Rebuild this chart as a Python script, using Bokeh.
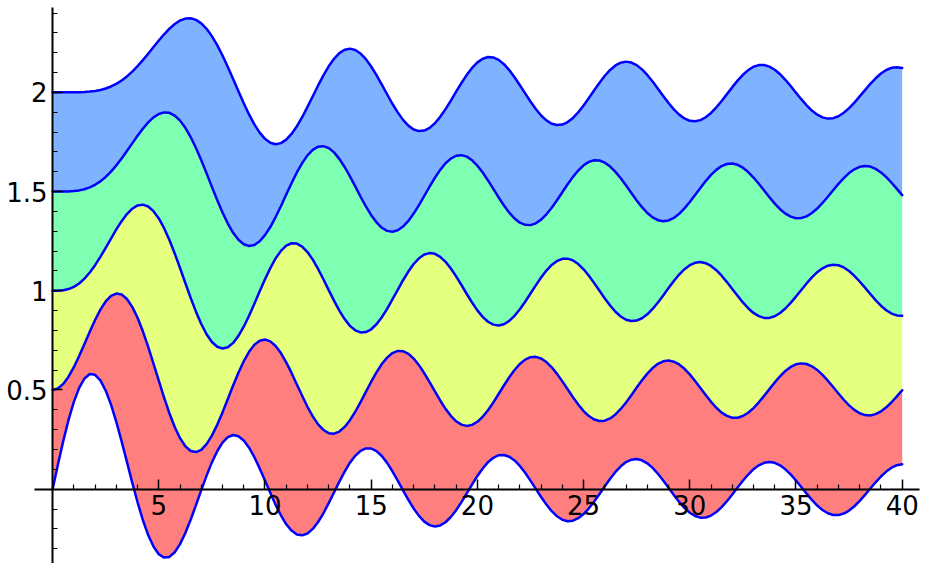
from bokeh.plotting import figure
from bokeh.models import Range1d, FixedTicker, LinearAxis
from bokeh.embed import file_html
from bokeh.resources import INLINE

x = [0.0, 0.25, 0.5, 0.75, 1.0, 1.25, 1.5, 1.75, 2.0, 2.25, 2.5, 2.75, 3.0, 3.25, 3.5, 3.75,
     4.0, 4.25, 4.5, 4.75, 5.0, 5.25, 5.5, 5.75, 6.0, 6.25, 6.5, 6.75, 7.0, 7.25, 7.5, 7.75,
     8.0, 8.25, 8.5, 8.75, 9.0, 9.25, 9.5, 9.75, 10.0, 10.25, 10.5, 10.75, 11.0, 11.25, 11.5, 11.75,
     12.0, 12.25, 12.5, 12.75, 13.0, 13.25, 13.5, 13.75, 14.0, 14.25, 14.5, 14.75, 15.0, 15.25, 15.5, 15.75,
     16.0, 16.25, 16.5, 16.75, 17.0, 17.25, 17.5, 17.75, 18.0, 18.25, 18.5, 18.75, 19.0, 19.25, 19.5, 19.75,
     20.0, 20.25, 20.5, 20.75, 21.0, 21.25, 21.5, 21.75, 22.0, 22.25, 22.5, 22.75, 23.0, 23.25, 23.5, 23.75,
     24.0, 24.25, 24.5, 24.75, 25.0, 25.25, 25.5, 25.75, 26.0, 26.25, 26.5, 26.75, 27.0, 27.25, 27.5, 27.75,
     28.0, 28.25, 28.5, 28.75, 29.0, 29.25, 29.5, 29.75, 30.0, 30.25, 30.5, 30.75, 31.0, 31.25, 31.5, 31.75,
     32.0, 32.25, 32.5, 32.75, 33.0, 33.25, 33.5, 33.75, 34.0, 34.25, 34.5, 34.75, 35.0, 35.25, 35.5, 35.75,
     36.0, 36.25, 36.5, 36.75, 37.0, 37.25, 37.5, 37.75, 38.0, 38.25, 38.5, 38.75, 39.0, 39.25, 39.5, 39.75,
     40.0]

curve1 = [0.0, 0.1240, 0.2423, 0.3492, 0.4401, 0.5106, 0.5579, 0.5802,
          0.5767, 0.5484, 0.4971, 0.4260, 0.3391, 0.2411, 0.1374, 0.0334,
          -0.0660, -0.1554, -0.2311, -0.2890, -0.3276, -0.3448, -0.3414, -0.3177,
          -0.2767, -0.2206, -0.1538, -0.0803, -0.0047, 0.0684, 0.1352, 0.1914,
          0.2346, 0.2620, 0.2731, 0.2670, 0.2453, 0.2090, 0.1613, 0.1048,
          0.0435, -0.0182, -0.0788, -0.1316, -0.1768, -0.2086, -0.2283, -0.2326,
          -0.2234, -0.2002, -0.1654, -0.1214, -0.0703, -0.0166, 0.0380, 0.0883,
          0.1334, 0.1683, 0.1933, 0.2052, 0.2051, 0.1917, 0.1671, 0.1326,
          0.0904, 0.0436, -0.0058, -0.0533, -0.0977, -0.1345, -0.1634, -0.1810,
          -0.1880, -0.1826, -0.1666, -0.1402, -0.1057, -0.0652, -0.0209, 0.0236,
          0.0668, 0.1045, 0.1362, 0.1583, 0.1711, 0.1725, 0.1638, 0.1447,
          0.1171, 0.0826, 0.0432, 0.0019, -0.0395, -0.0775, -0.1109, -0.1364,
          -0.1540, -0.1612, -0.1590, -0.1464, -0.1253, -0.0965, -0.0620, -0.0242,
          0.0151, 0.0526, 0.0870, 0.1152, 0.1366, 0.1487, 0.1521, 0.1455,
          0.1305, 0.1072, 0.0777, 0.0436, 0.0069, -0.0296, -0.0643, -0.0942,
          -0.1187, -0.1350, -0.1435, -0.1424, -0.1330, -0.1151, -0.0904, -0.0603,
          -0.0266, 0.0083, 0.0427, 0.0738, 0.1006, 0.1204, 0.1332, 0.1371,
          0.1330, 0.1202, 0.1004, 0.0744, 0.0440, 0.0112, -0.0223, -0.0539,
          -0.0823, -0.1050, -0.1215, -0.1298, -0.1306, -0.1228, -0.1078, -0.0860,
          -0.0592, -0.0288, 0.0032, 0.0347, 0.0641, 0.0889, 0.1085, 0.1208,
          0.1260]

curve2 = [0.0, 0.0078, 0.0306, 0.0671, 0.1149, 0.1711, 0.2321, 0.2940,
          0.3528, 0.4047, 0.4461, 0.4739, 0.4861, 0.4809, 0.4586, 0.4189,
          0.3641, 0.2958, 0.2178, 0.1333, 0.0466, -0.0383, -0.1173, -0.1864,
          -0.2429, -0.2835, -0.3074, -0.3130, -0.3014, -0.2729, -0.2302, -0.1757,
          -0.1130, -0.0456, 0.0224, 0.0870, 0.1448, 0.1925, 0.2279, 0.2486,
          0.2546, 0.2453, 0.2218, 0.1859, 0.1391, 0.0861, 0.0280, -0.0293,
          -0.0849, -0.1330, -0.1734, -0.2014, -0.2177, -0.2200, -0.2095, -0.1862,
          -0.1520, -0.1096, -0.0609, -0.0099, 0.0416, 0.0888, 0.1309, 0.1633,
          0.1862, 0.1967, 0.1957, 0.1824, 0.1584, 0.1250, 0.0844, 0.0396,
          -0.0075, -0.0529, -0.0952, -0.1302, -0.1577, -0.1744, -0.1810, -0.1758,
          -0.1603, -0.1350, -0.1018, -0.0629, -0.0203, 0.0226, 0.0641, 0.1007,
          0.1314, 0.1529, 0.1654, 0.1671, 0.1590, 0.1409, 0.1145, 0.0813,
          0.0434, 0.0035, -0.0367, -0.0736, -0.1063, -0.1315, -0.1490, -0.1565,
          -0.1548, -0.1432, -0.1233, -0.0958, -0.0627, -0.0261, 0.0121, 0.0487,
          0.0825, 0.1104, 0.1318, 0.1443, 0.1484, 0.1428, 0.1288, 0.1068,
          0.0785, 0.0456, 0.0100, -0.0256, -0.0598, -0.0895, -0.1139, -0.1307,
          -0.1398, -0.1396, -0.1313, -0.1146, -0.0912, -0.0622, -0.0296, 0.0044,
          0.0382, 0.0690, 0.0958, 0.1160, 0.1294, 0.1341, 0.1310, 0.1195,
          0.1010, 0.0761, 0.0468, 0.0148, -0.0180, -0.0492, -0.0775, -0.1004,
          -0.1174, -0.1266, -0.1284, -0.1218, -0.1081, -0.0875, -0.0618, -0.0324,
          -0.0011]

curve3 = [0.0, 0.0003, 0.0026, 0.0085, 0.0196, 0.0369, 0.0610, 0.0919,
          0.1289, 0.1711, 0.2166, 0.2634, 0.3091, 0.3510, 0.3867, 0.4137,
          0.4302, 0.4340, 0.4247, 0.4013, 0.3648, 0.3156, 0.2561, 0.1881,
          0.1148, 0.0391, -0.0354, -0.1053, -0.1676, -0.2191, -0.2580, -0.2821,
          -0.2911, -0.2842, -0.2626, -0.2273, -0.1809, -0.1258, -0.0653, -0.0028,
          0.0584, 0.1141, 0.1633, 0.2010, 0.2274, 0.2395, 0.2380, 0.2228,
          0.1951, 0.1569, 0.1099, 0.0582, 0.0033, -0.0498, -0.1001, -0.1425,
          -0.1768, -0.1991, -0.2101, -0.2079, -0.1940, -0.1686, -0.1333, -0.0912,
          -0.0438, 0.0048, 0.0532, 0.0969, 0.1350, 0.1636, 0.1827, 0.1900,
          0.1863, 0.1711, 0.1460, 0.1125, 0.0725, 0.0290, -0.0162, -0.0593,
          -0.0989, -0.1313, -0.1561, -0.1705, -0.1750, -0.1684, -0.1519, -0.1262,
          -0.0932, -0.0551, -0.0138, 0.0275, 0.0672, 0.1018, 0.1304, 0.1502,
          0.1612, 0.1618, 0.1530, 0.1346, 0.1083, 0.0757, 0.0386, -0.0002,
          -0.0389, -0.0744, -0.1056, -0.1295, -0.1459, -0.1525, -0.1503, -0.1385,
          -0.1187, -0.0916, -0.0592, -0.0235, 0.0136, 0.0491, 0.0818, 0.1087,
          0.1292, 0.1411, 0.1448, 0.1391, 0.1253, 0.1036, 0.0759, 0.0438,
          0.0091, -0.0256, -0.0589, -0.0879, -0.1117, -0.1279, -0.1367, -0.1366,
          -0.1285, -0.1122, -0.0893, -0.0610, -0.0292, 0.0041, 0.0371, 0.0673,
          0.0935, 0.1134, 0.1266, 0.1315, 0.1287, 0.1175, 0.0995, 0.0753,
          0.0468, 0.0156, -0.0165, -0.0472, -0.0752, -0.0979, -0.1148, -0.1241,
          -0.1261]

curve4 = [0.0, 0.0000, 0.0002, 0.0008, 0.0025, 0.0059, 0.0118, 0.0209,
          0.0340, 0.0515, 0.0738, 0.1007, 0.1320, 0.1669, 0.2043, 0.2430,
          0.2811, 0.3169, 0.3485, 0.3738, 0.3912, 0.3991, 0.3967, 0.3828,
          0.3576, 0.3211, 0.2747, 0.2195, 0.1578, 0.0916, 0.0238, -0.0428,
          -0.1054, -0.1611, -0.2078, -0.2429, -0.2655, -0.2741, -0.2691, -0.2504,
          -0.2196, -0.1788, -0.1285, -0.0738, -0.0151, 0.0417, 0.0962, 0.1432,
          0.1825, 0.2099, 0.2262, 0.2288, 0.2192, 0.1974, 0.1650, 0.1239,
          0.0762, 0.0258, -0.0260, -0.0747, -0.1192, -0.1552, -0.1825, -0.1981,
          -0.2026, -0.1950, -0.1764, -0.1478, -0.1108, -0.0682, -0.0218, 0.0246,
          0.0696, 0.1092, 0.1426, 0.1663, 0.1806, 0.1835, 0.1760, 0.1577,
          0.1306, 0.0962, 0.0561, 0.0136, -0.0297, -0.0701, -0.1065, -0.1356,
          -0.1568, -0.1678, -0.1691, -0.1600, -0.1415, -0.1147, -0.0812, -0.0434,
          -0.0031, 0.0366, 0.0742, 0.1063, 0.1323, 0.1496, 0.1581, 0.1565,
          0.1458, 0.1263, 0.0994, 0.0668, 0.0303, -0.0075, -0.0449, -0.0787,
          -0.1079, -0.1299, -0.1443, -0.1493, -0.1456, -0.1328, -0.1122, -0.0849,
          -0.0527, -0.0176, 0.0185, 0.0528, 0.0841, 0.1094, 0.1284, 0.1390,
          0.1415, 0.1349, 0.1204, 0.0985, 0.0709, 0.0391, 0.0051, -0.0287,
          -0.0609, -0.0887, -0.1113, -0.1265, -0.1344, -0.1334, -0.1247, -0.1082,
          -0.0854, -0.0574, -0.0260, 0.0066, 0.0389, 0.0681, 0.0934, 0.1124,
          0.1248, 0.1291, 0.1258, 0.1145, 0.0965, 0.0726, 0.0444, 0.0137,
          -0.0178]

curve5 = [0.0, 0.0000, 0.0000, 0.0001, 0.0002, 0.0007, 0.0018, 0.0038,
          0.0070, 0.0121, 0.0195, 0.0297, 0.0430, 0.0599, 0.0803, 0.1046,
          0.1321, 0.1625, 0.1949, 0.2282, 0.2611, 0.2926, 0.3209, 0.3445,
          0.3621, 0.3720, 0.3735, 0.3655, 0.3479, 0.3202, 0.2834, 0.2381,
          0.1858, 0.1280, 0.0670, 0.0052, -0.0550, -0.1113, -0.1613, -0.2027,
          -0.2341, -0.2537, -0.2612, -0.2559, -0.2384, -0.2097, -0.1711, -0.1252,
          -0.0734, -0.0198, 0.0349, 0.0855, 0.1316, 0.1692, 0.1979, 0.2147,
          0.2203, 0.2137, 0.1958, 0.1675, 0.1304, 0.0872, 0.0391, -0.0095,
          -0.0575, -0.1009, -0.1387, -0.1676, -0.1871, -0.1953, -0.1927, -0.1790,
          -0.1554, -0.1233, -0.0843, -0.0416, 0.0035, 0.0473, 0.0884, 0.1232,
          0.1511, 0.1694, 0.1780, 0.1759, 0.1637, 0.1421, 0.1123, 0.0764,
          0.0362, -0.0052, -0.0463, -0.0838, -0.1164, -0.1413, -0.1580, -0.1648,
          -0.1622, -0.1498, -0.1288, -0.1003, -0.0660, -0.0283, 0.0110, 0.0488,
          0.0838, 0.1129, 0.1356, 0.1495, 0.1549, 0.1504, 0.1372, 0.1159,
          0.0879, 0.0549, 0.0187, -0.0181, -0.0538, -0.0855, -0.1122, -0.1315,
          -0.1433, -0.1459, -0.1399, -0.1255, -0.1036, -0.0757, -0.0433, -0.0088,
          0.0263, 0.0592, 0.0885, 0.1120, 0.1289, 0.1375, 0.1379, 0.1299,
          0.1142, 0.0916, 0.0635, 0.0319, -0.0015, -0.0344, -0.0652, -0.0916,
          -0.1125, -0.1261, -0.1323, -0.1302, -0.1203, -0.1030, -0.0796, -0.0516,
          -0.0205, 0.0114, 0.0426, 0.0709, 0.0950, 0.1127, 0.1238, 0.1269,
          0.1225]

offsets = [0.0, 0.5, 1.0, 1.5, 2.0]
band_colors = ["#ff7f7f", "#e5ff7f", "#7fffb2", "#7fb2ff"]

x_ticks = [5, 10, 15, 20, 25, 30, 35, 40]
x_minor = [1, 2, 3, 4, 6, 7, 8, 9, 11, 12, 13, 14, 16, 17, 18, 19, 21, 22, 23, 24,
           26, 27, 28, 29, 31, 32, 33, 34, 36, 37, 38, 39]
y_ticks = [0.5, 1.0, 1.5, 2.0]
y_labels = {0.5: "0.5", 1.0: "1", 1.5: "1.5", 2.0: "2"}
y_minor = [-0.3, -0.2, -0.1, 0.1, 0.2, 0.3, 0.4, 0.6, 0.7, 0.8, 0.9, 1.1, 1.2, 1.3, 1.4,
           1.6, 1.7, 1.8, 1.9, 2.1, 2.2, 2.3, 2.4]

series = [curve1, curve2, curve3, curve4, curve5]
stacked = [[o + v for v in s] for o, s in zip(offsets, series)]

p = figure(width=921, height=563, output_backend="svg", toolbar_location=None,
           x_range=Range1d(-2.453, 40.91), y_range=Range1d(-0.3745, 2.463),
           x_axis_type=None, y_axis_type=None, min_border=0)
p.outline_line_color = None
p.background_fill_color = "white"
p.border_fill_color = "white"

for i in range(4):
    p.varea(x=x, y1=stacked[i], y2=stacked[i + 1], fill_color=band_colors[i], fill_alpha=1.0)

for c in stacked:
    p.line(x, c, line_color="#0000ff", line_width=2.5, line_join="round", line_cap="round")

xaxis = LinearAxis(fixed_location=0,
                   ticker=FixedTicker(ticks=x_ticks, minor_ticks=x_minor),
                   bounds=(-0.87, 40.8))
yaxis = LinearAxis(fixed_location=0,
                   ticker=FixedTicker(ticks=y_ticks, minor_ticks=y_minor),
                   bounds=(-0.42, 2.43),
                   major_label_overrides=y_labels)
for ax in (xaxis, yaxis):
    ax.axis_line_color = "black"
    ax.axis_line_width = 2
    ax.major_tick_in = 10
    ax.major_tick_out = 0
    ax.minor_tick_in = 5
    ax.minor_tick_out = 0
    ax.major_tick_line_color = "black"
    ax.minor_tick_line_color = "black"
    ax.major_tick_line_width = 1.5
    ax.minor_tick_line_width = 1.2
    ax.major_label_text_font = "DejaVu Sans"
    ax.major_label_text_font_size = "26px"
    ax.major_label_text_color = "black"
xaxis.major_label_standoff = 6
yaxis.major_label_standoff = 5

p.add_layout(xaxis, "below")
p.add_layout(yaxis, "left")

open("out.html", "w").write(file_html(p, INLINE))
